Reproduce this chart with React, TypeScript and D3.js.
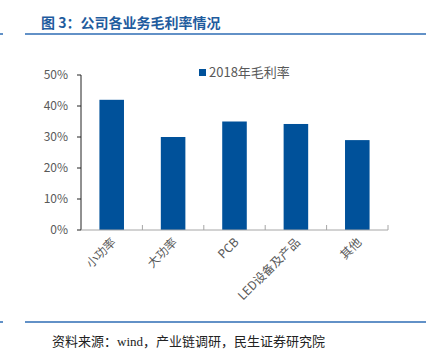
import React from "react";
import * as d3 from "d3";

const categories = ["小功率", "大功率", "PCB", "LED设备及产品", "其他"];
const values = [0.42, 0.30, 0.35, 0.342, 0.29];
const yTicks = [0, 0.1, 0.2, 0.3, 0.4, 0.5];
const seriesName = "2018年毛利率";
const title = "图 3：公司各业务毛利率情况";
const sourceA = "资料来源：";
const sourceB = "wind";
const sourceC = "，产业链调研，民生证券研究院";

export default function App() {
  const W = 432, H = 361;
  const x = d3.scaleBand<string>().domain(categories).range([81, 388]).paddingInner(0.6).paddingOuter(0.3);
  const y = d3.scaleLinear().domain([0, 0.5]).range([230, 75]);
  const fmt = d3.format(".0%");
  const band = (388 - 81) / categories.length;
  const font = "'Noto Sans CJK SC', 'Noto Sans', sans-serif";
  return (
    <svg width={W} height={H} style={{ position: "absolute", left: 0, top: 0 }}>
      <rect width={W} height={H} fill="#fff" />
      <text x={41} y={28} fontFamily={font} fontWeight="bold" fontSize={14} fill="#1F5C9E">{title}</text>
      <line x1={0} x2={3} y1={34} y2={34} stroke="#2E6DB4" strokeWidth={1.5} />
      <line x1={25} x2={426} y1={34} y2={34} stroke="#2E6DB4" strokeWidth={1.5} />
      <line x1={0} x2={3} y1={322} y2={322} stroke="#2E6DB4" strokeWidth={1.5} />
      <line x1={25} x2={426} y1={322} y2={322} stroke="#2E6DB4" strokeWidth={1.5} />
      <text x={52} y={346} fontFamily={font} fontSize={13} fill="#222">
        {sourceA}
        <tspan fontFamily="'Liberation Serif', serif">{sourceB}</tspan>
        {sourceC}
      </text>

      {yTicks.map((t) => (
        <g key={t}>
          <line x1={77} x2={81} y1={y(t)} y2={y(t)} stroke="#222" />
          <text x={68} y={y(t)} dy="0.35em" textAnchor="end" fontFamily={font} fontSize={12} fill="#595959">{fmt(t)}</text>
        </g>
      ))}
      <line x1={81} x2={81} y1={75} y2={230} stroke="#222" />
      {values.map((v, i) => (
        <rect key={i} x={x(categories[i])} y={y(v)} width={x.bandwidth()} height={230 - y(v)} fill="#00519A" />
      ))}
      <line x1={81} x2={388} y1={230} y2={230} stroke="#a6a6a6" />
      {categories.map((c, i) => (
        <line key={c} x1={81 + band * (i + 1)} x2={81 + band * (i + 1)} y1={225} y2={230} stroke="#a6a6a6" />
      ))}
      {categories.map((c) => {
        const cx = (x(c) as number) + x.bandwidth() / 2 + 2;
        return (
          <text key={c} transform={`translate(${cx},240) rotate(-45)`} textAnchor="end" dy="0.35em" fontFamily={font} fontSize={12} fill="#595959">{c}</text>
        );
      })}
      <rect x={199} y={69} width={7} height={7} fill="#00519A" />
      <text x={209} y={77} fontFamily={font} fontSize={13} fill="#595959">{seriesName}</text>
    </svg>
  );
}
